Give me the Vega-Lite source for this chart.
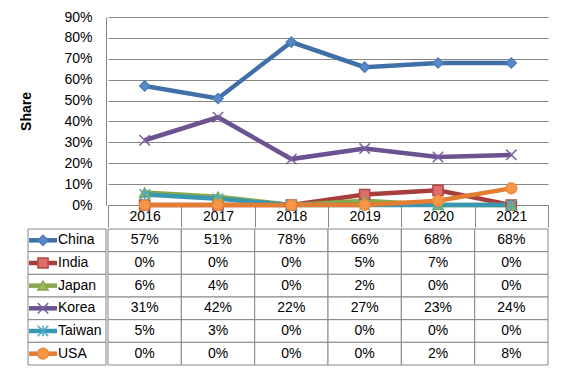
{
  "$schema": "https://vega.github.io/schema/vega-lite/v6.json",
  "padding": {"left": 19, "top": 10, "right": 10, "bottom": 4},
  "background": "white",
  "config": {"font": "Liberation Sans", "view": {"stroke": null}},
  "data": {"values": [
    {"country": "China", "year": "2016", "share": 0.57},
    {"country": "China", "year": "2017", "share": 0.51},
    {"country": "China", "year": "2018", "share": 0.78},
    {"country": "China", "year": "2019", "share": 0.66},
    {"country": "China", "year": "2020", "share": 0.68},
    {"country": "China", "year": "2021", "share": 0.68},
    {"country": "India", "year": "2016", "share": 0},
    {"country": "India", "year": "2017", "share": 0},
    {"country": "India", "year": "2018", "share": 0},
    {"country": "India", "year": "2019", "share": 0.05},
    {"country": "India", "year": "2020", "share": 0.07},
    {"country": "India", "year": "2021", "share": 0},
    {"country": "Japan", "year": "2016", "share": 0.06},
    {"country": "Japan", "year": "2017", "share": 0.04},
    {"country": "Japan", "year": "2018", "share": 0},
    {"country": "Japan", "year": "2019", "share": 0.02},
    {"country": "Japan", "year": "2020", "share": 0},
    {"country": "Japan", "year": "2021", "share": 0},
    {"country": "Korea", "year": "2016", "share": 0.31},
    {"country": "Korea", "year": "2017", "share": 0.42},
    {"country": "Korea", "year": "2018", "share": 0.22},
    {"country": "Korea", "year": "2019", "share": 0.27},
    {"country": "Korea", "year": "2020", "share": 0.23},
    {"country": "Korea", "year": "2021", "share": 0.24},
    {"country": "Taiwan", "year": "2016", "share": 0.05},
    {"country": "Taiwan", "year": "2017", "share": 0.03},
    {"country": "Taiwan", "year": "2018", "share": 0},
    {"country": "Taiwan", "year": "2019", "share": 0},
    {"country": "Taiwan", "year": "2020", "share": 0},
    {"country": "Taiwan", "year": "2021", "share": 0},
    {"country": "USA", "year": "2016", "share": 0},
    {"country": "USA", "year": "2017", "share": 0},
    {"country": "USA", "year": "2018", "share": 0},
    {"country": "USA", "year": "2019", "share": 0},
    {"country": "USA", "year": "2020", "share": 0.02},
    {"country": "USA", "year": "2021", "share": 0.08}
  ]},
  "columns": 2,
  "spacing": 0,
  "align": "each",
  "resolve": {"scale": {"x": "independent", "y": "independent"}},
  "concat": [
    {
      "width": 78,
      "height": 188,
      "data": {"values": []},
      "mark": {"type": "point", "opacity": 0},
      "encoding": {
        "y": {
          "field": "share", "type": "quantitative",
          "scale": {"domain": [0, 0.9], "nice": false},
          "axis": {
            "offset": -78,
            "values": [0, 0.1, 0.2, 0.3, 0.4, 0.5, 0.6, 0.7, 0.8, 0.9],
            "format": ".0%", "grid": false, "domainColor": "#868686", "ticks": false,
            "labelPadding": 14, "labelFontSize": 14, "labelColor": "black",
            "title": "Share", "titleFontSize": 14, "titleFontWeight": "bold",
            "titleColor": "black", "titlePadding": 31, "minExtent": 42, "maxExtent": 42
          }
        }
      }
    },
    {
      "width": 440,
      "height": 188,
      "encoding": {
        "x": {
          "field": "year", "type": "ordinal", "bandPosition": 0.5,
          "scale": {"type": "band", "paddingInner": 0, "paddingOuter": 0},
          "axis": {
            "orient": "bottom", "title": null, "tickBand": "extent", "tickSize": 22,
            "tickColor": "#868686", "domainColor": "#868686", "labelPadding": -11,
            "labelBaseline": "middle", "labelFontSize": 14, "labelColor": "black",
            "labelAngle": 0, "grid": false
          }
        },
        "y": {
          "field": "share", "type": "quantitative",
          "scale": {"domain": [0, 0.9], "nice": false},
          "axis": {
            "values": [0, 0.1, 0.2, 0.3, 0.4, 0.5, 0.6, 0.7, 0.8, 0.9],
            "grid": true, "gridColor": "#868686", "gridOpacity": 1,
            "domain": false, "ticks": false, "labels": false, "title": null,
            "minExtent": 0, "maxExtent": 0
          }
        }
      },
      "layer": [
        {
          "mark": {"type": "line", "strokeWidth": 4.5},
          "encoding": {
            "color": {
              "field": "country", "type": "nominal", "legend": null,
              "scale": {"domain": ["China", "India", "Japan", "Korea", "Taiwan", "USA"],
                        "range": ["#4170A8", "#A63E3C", "#88A84A", "#6B5291", "#3A97B0", "#E27D32"]}
            }
          }
        },
        {
          "mark": {"type": "point", "filled": true, "opacity": 1, "strokeWidth": 1.5},
          "encoding": {
            "shape": {
              "field": "country", "type": "nominal", "legend": null,
              "scale": {"domain": ["China", "India", "Japan", "Korea", "Taiwan", "USA"],
                        "range": ["diamond", "square", "triangle-up", "M-1,-1L1,1M-1,1L1,-1", "M-1,-1L1,1M-1,1L1,-1M0,-1L0,1", "circle"]}
            },
            "fill": {
              "field": "country", "type": "nominal", "legend": null,
              "scale": {"domain": ["China", "India", "Japan", "Korea", "Taiwan", "USA"],
                        "range": ["#5A8AC6", "#DD6E6C", "#9BBB59", "#8064A2", "#4BACC6", "#F79646"]}
            },
            "stroke": {
              "field": "country", "type": "nominal", "legend": null,
              "scale": {"domain": ["China", "India", "Japan", "Korea", "Taiwan", "USA"],
                        "range": ["#4A7EBB", "#B24744", "#8AA84E", "#7D60A0", "#46AAC5", "#EB8A3C"]}
            },
            "size": {
              "field": "country", "type": "ordinal", "legend": null,
              "scale": {"domain": ["China", "India", "Japan", "Korea", "Taiwan", "USA"],
                        "range": [100, 115, 90, 90, 80, 144]}
            }
          }
        }
      ]
    },
    {
      "width": 78,
      "height": 136,
      "transform": [{"filter": "datum.year == '2016'"}],
      "encoding": {
        "y": {"field": "country", "type": "nominal",
              "scale": {"type": "band", "paddingInner": 0, "paddingOuter": 0}, "axis": null}
      },
      "layer": [
        {"mark": {"type": "rect", "fill": "white", "stroke": "#868686", "strokeWidth": 1}},
        {
          "mark": {"type": "point", "shape": "stroke", "size": 784, "strokeWidth": 4.5, "filled": false, "opacity": 1, "xOffset": -24},
          "encoding": {
            "color": {"field": "country", "type": "nominal", "legend": null,
                      "scale": {"domain": ["China", "India", "Japan", "Korea", "Taiwan", "USA"],
                                "range": ["#4170A8", "#A63E3C", "#88A84A", "#6B5291", "#3A97B0", "#E27D32"]}}
          }
        },
        {
          "mark": {"type": "point", "filled": true, "opacity": 1, "strokeWidth": 1.5, "xOffset": -24},
          "encoding": {
            "shape": {"field": "country", "type": "nominal", "legend": null,
                      "scale": {"domain": ["China", "India", "Japan", "Korea", "Taiwan", "USA"],
                                "range": ["diamond", "square", "triangle-up", "M-1,-1L1,1M-1,1L1,-1", "M-1,-1L1,1M-1,1L1,-1M0,-1L0,1", "circle"]}},
            "fill": {"field": "country", "type": "nominal", "legend": null,
                     "scale": {"domain": ["China", "India", "Japan", "Korea", "Taiwan", "USA"],
                               "range": ["#5A8AC6", "#DD6E6C", "#9BBB59", "#8064A2", "#4BACC6", "#F79646"]}},
            "stroke": {"field": "country", "type": "nominal", "legend": null,
                       "scale": {"domain": ["China", "India", "Japan", "Korea", "Taiwan", "USA"],
                                 "range": ["#4A7EBB", "#B24744", "#8AA84E", "#7D60A0", "#46AAC5", "#EB8A3C"]}},
            "size": {"field": "country", "type": "ordinal", "legend": null,
                     "scale": {"domain": ["China", "India", "Japan", "Korea", "Taiwan", "USA"],
                               "range": [64, 81, 64, 64, 64, 100]}}
          }
        },
        {
          "mark": {"type": "text", "align": "left", "dx": -9, "fontSize": 14, "color": "black"},
          "encoding": {"text": {"field": "country", "type": "nominal"}}
        }
      ]
    },
    {
      "width": 440,
      "height": 136,
      "encoding": {
        "x": {"field": "year", "type": "ordinal",
              "scale": {"type": "band", "paddingInner": 0, "paddingOuter": 0}, "axis": null},
        "y": {"field": "country", "type": "nominal",
              "scale": {"type": "band", "paddingInner": 0, "paddingOuter": 0}, "axis": null}
      },
      "layer": [
        {"mark": {"type": "rect", "fill": "white", "stroke": "#868686", "strokeWidth": 1}},
        {
          "mark": {"type": "text", "fontSize": 14, "color": "black"},
          "encoding": {"text": {"field": "share", "type": "quantitative", "format": ".0%"}}
        }
      ]
    }
  ]
}
